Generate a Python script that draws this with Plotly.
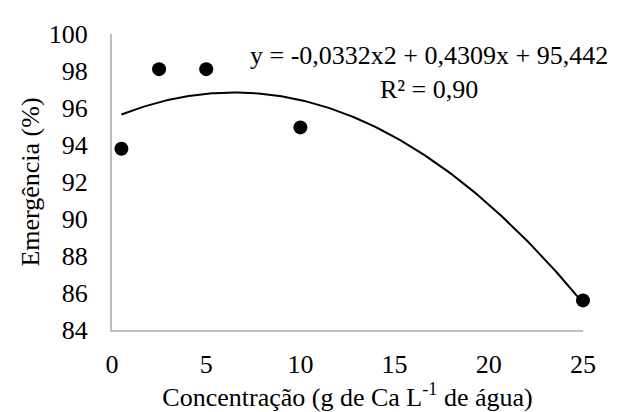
import numpy as np
import plotly.graph_objects as go

# Observed data
concentracao = [0.5, 2.5, 5, 10, 25]
emergencia = [93.8, 98.1, 98.1, 94.95, 85.6]

# Trendline coefficients shown in the chart (y = a*x^2 + b*x + c)
coef_a, coef_b, coef_c = -0.0332, 0.4309, 95.442
equation_text = "y = -0,0332x2 + 0,4309x + 95,442"
r2_text = "R² = 0,90"

x_ticks = [0, 5, 10, 15, 20, 25]
y_ticks = [84, 86, 88, 90, 92, 94, 96, 98, 100]

xt = np.linspace(min(concentracao), max(concentracao), 200)
yt = coef_a * xt**2 + coef_b * xt + coef_c

FONT = "Liberation Serif"
FS = 26

fig = go.Figure()
fig.add_trace(go.Scatter(x=xt, y=yt, mode="lines",
                         line=dict(color="black", width=2),
                         hoverinfo="skip", cliponaxis=False))
fig.add_trace(go.Scatter(x=concentracao, y=emergencia, mode="markers",
                         marker=dict(color="black", size=14),
                         cliponaxis=False))

fig.add_annotation(x=0.673, y=0.869, xref="paper", yref="paper",
                   text=equation_text + "<br>" + r2_text,
                   showarrow=False, xanchor="center", yanchor="middle",
                   font=dict(family=FONT, size=FS, color="black"),
                   align="center")

fig.update_layout(
    width=617, height=412,
    margin=dict(l=104, r=42, t=20, b=90),
    paper_bgcolor="white", plot_bgcolor="white",
    showlegend=False,
    font=dict(family=FONT, size=FS, color="black"),
)
fig.update_xaxes(range=[0, 25], tickvals=x_ticks, showgrid=False, zeroline=False,
                 showline=True, linecolor="#bfbfbf", linewidth=2,
                 ticks="", ticklabelstandoff=10,
                 tickfont=dict(family=FONT, size=FS),
                 title=dict(text="Concentração (g de Ca L<sup>-1</sup> de água)",
                            standoff=0, font=dict(family=FONT, size=FS)))
fig.update_yaxes(range=[84, 100], tickvals=y_ticks, showgrid=False, zeroline=False,
                 showline=True, linecolor="#bfbfbf", linewidth=2,
                 ticks="", ticklabelstandoff=17,
                 tickfont=dict(family=FONT, size=FS),
                 title=dict(text="Emergência (%)", standoff=2,
                            font=dict(family=FONT, size=FS)))

fig.write_html("out.html")
